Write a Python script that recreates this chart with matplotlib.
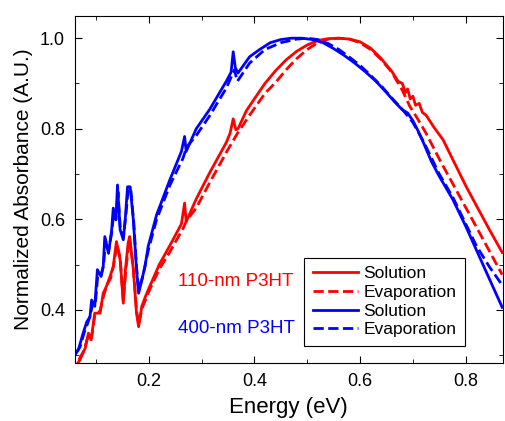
import numpy as np
import matplotlib.pyplot as plt
from matplotlib.ticker import MultipleLocator

plt.rcParams['font.family'] = ['Liberation Sans', 'DejaVu Sans']

# 110-nm P3HT, solution
red_sol_x = [0.066, 0.070, 0.080, 0.086, 0.091, 0.098, 0.108, 0.114, 0.120, 0.127,
             0.133, 0.139, 0.146, 0.152, 0.156, 0.161, 0.164, 0.171, 0.177, 0.181,
             0.187, 0.194, 0.202, 0.220, 0.240, 0.262, 0.268, 0.271, 0.290, 0.315,
             0.347, 0.354, 0.360, 0.365, 0.369, 0.385, 0.400, 0.420, 0.440, 0.460,
             0.480, 0.500, 0.520, 0.540, 0.560, 0.580, 0.600, 0.620, 0.640, 0.660,
             0.672, 0.680, 0.686, 0.690, 0.695, 0.700, 0.705, 0.712, 0.718, 0.725,
             0.740, 0.757, 0.776, 0.801, 0.825, 0.845, 0.869]
red_sol_y = [0.283, 0.290, 0.316, 0.349, 0.334, 0.393, 0.393, 0.437, 0.452, 0.474,
             0.496, 0.551, 0.511, 0.415, 0.489, 0.547, 0.562, 0.489, 0.393, 0.363,
             0.408, 0.430, 0.452, 0.500, 0.542, 0.590, 0.636, 0.595, 0.645, 0.702,
             0.770, 0.790, 0.822, 0.798, 0.800, 0.840, 0.866, 0.900, 0.928, 0.952,
             0.971, 0.985, 0.995, 0.999, 1.000, 0.998, 0.992, 0.978, 0.955, 0.927,
             0.905, 0.900, 0.880, 0.888, 0.866, 0.872, 0.852, 0.856, 0.836, 0.830,
             0.803, 0.776, 0.731, 0.672, 0.620, 0.577, 0.527]

# 110-nm P3HT, evaporation
red_eva_x = [0.068, 0.078, 0.086, 0.092, 0.098, 0.108, 0.115, 0.121, 0.128, 0.134,
             0.140, 0.146, 0.152, 0.157, 0.164, 0.171, 0.177, 0.181, 0.188, 0.202,
             0.220, 0.240, 0.265, 0.272, 0.290, 0.315, 0.347, 0.362, 0.368, 0.391,
             0.420, 0.440, 0.460, 0.480, 0.500, 0.520, 0.540, 0.560, 0.580, 0.600,
             0.620, 0.640, 0.660, 0.680, 0.694, 0.710, 0.725, 0.751, 0.810, 0.869]
red_eva_y = [0.290, 0.312, 0.345, 0.338, 0.388, 0.398, 0.432, 0.455, 0.470, 0.500,
             0.545, 0.515, 0.420, 0.492, 0.558, 0.492, 0.400, 0.368, 0.405, 0.445,
             0.490, 0.528, 0.580, 0.598, 0.625, 0.680, 0.748, 0.778, 0.790, 0.830,
             0.878, 0.902, 0.930, 0.955, 0.975, 0.990, 0.998, 1.000, 0.998, 0.990,
             0.975, 0.953, 0.925, 0.885, 0.850, 0.820, 0.790, 0.731, 0.605, 0.478]

# 400-nm P3HT, solution
blue_sol_x = [0.060, 0.067, 0.076, 0.083, 0.089, 0.092, 0.098, 0.103, 0.110, 0.114,
              0.117, 0.124, 0.130, 0.133, 0.138, 0.141, 0.146, 0.152, 0.156, 0.160,
              0.165, 0.171, 0.177, 0.181, 0.187, 0.193, 0.199, 0.215, 0.240, 0.262,
              0.268, 0.271, 0.290, 0.315, 0.347, 0.356, 0.360, 0.364, 0.369, 0.391,
              0.410, 0.430, 0.450, 0.470, 0.490, 0.510, 0.530, 0.550, 0.570, 0.590,
              0.610, 0.630, 0.650, 0.665, 0.680, 0.690, 0.700, 0.710, 0.719, 0.735,
              0.750, 0.776, 0.800, 0.820, 0.845, 0.869]
blue_sol_y = [0.300, 0.312, 0.349, 0.374, 0.385, 0.422, 0.408, 0.489, 0.474, 0.496,
              0.562, 0.525, 0.577, 0.625, 0.599, 0.676, 0.577, 0.555, 0.606, 0.672,
              0.672, 0.599, 0.489, 0.437, 0.466, 0.496, 0.540, 0.610, 0.687, 0.750,
              0.783, 0.750, 0.800, 0.842, 0.905, 0.925, 0.970, 0.935, 0.923, 0.959,
              0.975, 0.990, 0.997, 1.000, 1.000, 0.997, 0.990, 0.977, 0.962, 0.945,
              0.926, 0.905, 0.880, 0.860, 0.842, 0.835, 0.818, 0.795, 0.772, 0.728,
              0.695, 0.643, 0.585, 0.533, 0.468, 0.406]

# 400-nm P3HT, evaporation
blue_eva_x = [0.062, 0.070, 0.078, 0.085, 0.090, 0.094, 0.099, 0.104, 0.110, 0.115,
              0.118, 0.124, 0.130, 0.134, 0.138, 0.142, 0.146, 0.152, 0.157, 0.161,
              0.166, 0.172, 0.177, 0.181, 0.188, 0.200, 0.215, 0.240, 0.265, 0.272,
              0.290, 0.315, 0.347, 0.362, 0.368, 0.391, 0.420, 0.450, 0.480, 0.500,
              0.520, 0.540, 0.560, 0.580, 0.600, 0.620, 0.640, 0.660, 0.680, 0.700,
              0.720, 0.750, 0.776, 0.800, 0.820, 0.845, 0.869]
blue_eva_y = [0.305, 0.318, 0.350, 0.372, 0.390, 0.415, 0.412, 0.480, 0.478, 0.500,
              0.555, 0.530, 0.570, 0.615, 0.600, 0.660, 0.585, 0.560, 0.610, 0.665,
              0.668, 0.590, 0.495, 0.445, 0.470, 0.535, 0.600, 0.675, 0.735, 0.760,
              0.785, 0.828, 0.890, 0.930, 0.905, 0.945, 0.975, 0.990, 0.998, 1.000,
              0.997, 0.988, 0.975, 0.958, 0.940, 0.918, 0.895, 0.868, 0.843, 0.814,
              0.772, 0.700, 0.648, 0.590, 0.542, 0.495, 0.455]

fig = plt.figure(figsize=(5.06, 4.21), dpi=100)
ax = fig.add_axes([0.1476, 0.1378, 0.8459, 0.8242])

lw = 2.0
ax.plot(red_sol_x, red_sol_y, '-', color='red', lw=lw, label='Solution')
ax.plot(red_eva_x, red_eva_y, '--', color='red', lw=lw, label='Evaporation')
ax.plot(blue_sol_x, blue_sol_y, '-', color='blue', lw=lw, label='Solution')
ax.plot(blue_eva_x, blue_eva_y, '--', color='blue', lw=lw, label='Evaporation')

ax.set_xlim(0.06, 0.87)
ax.set_ylim(0.283, 1.049)
ax.xaxis.set_major_locator(MultipleLocator(0.2))
ax.xaxis.set_minor_locator(MultipleLocator(0.1))
ax.yaxis.set_major_locator(MultipleLocator(0.2))
ax.yaxis.set_minor_locator(MultipleLocator(0.1))
ax.tick_params(which='both', direction='in', top=True, right=True, labelsize=13)
ax.tick_params(which='major', length=5, pad=7)
ax.tick_params(which='minor', length=3)
ax.set_xlabel('Energy (eV)', fontsize=16, labelpad=5)
ax.set_ylabel('Normalized Absorbance (A.U.)', fontsize=15, labelpad=5)

ax.text(0.255, 0.462, '110-nm P3HT', color='red', fontsize=13.5, va='center')
ax.text(0.255, 0.360, '400-nm P3HT', color='blue', fontsize=13.5, va='center')

leg = ax.legend(loc='lower right', bbox_to_anchor=(0.912, 0.049), borderaxespad=0,
                fontsize=12.5, fancybox=False, edgecolor='black', framealpha=1,
                handlelength=2.6, labelspacing=0.2, handletextpad=0.3, borderpad=0.5)
leg.get_frame().set_linewidth(0.8)

plt.savefig('out.png', dpi=100)
